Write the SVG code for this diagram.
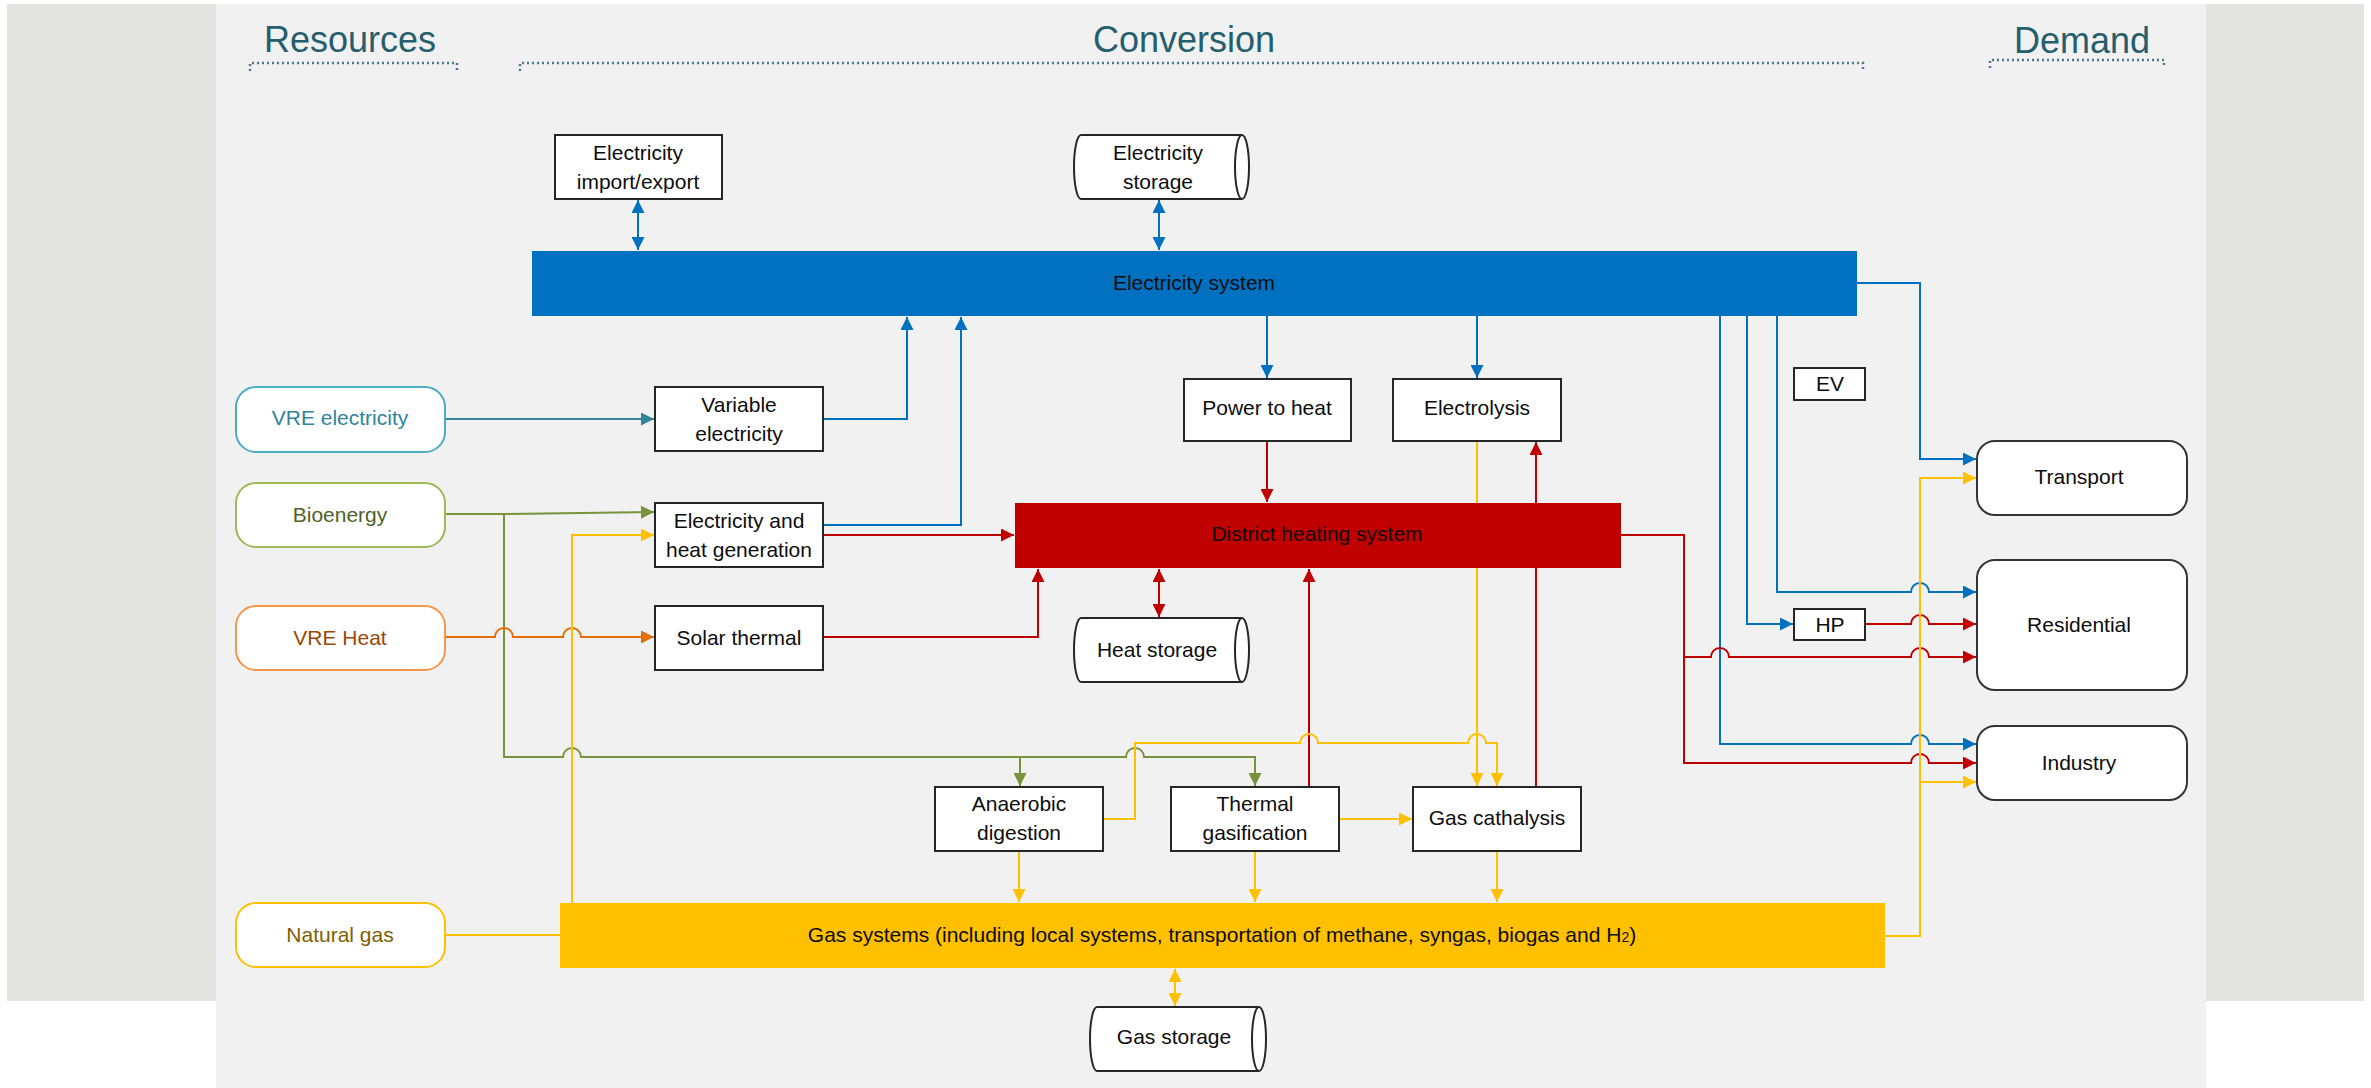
<svg xmlns="http://www.w3.org/2000/svg" width="2371" height="1088" viewBox="0 0 2371 1088">
  <style>
    text { font-family: "Liberation Sans", Arial, sans-serif; font-size: 21px; fill: #0d0d0d; text-anchor: middle; }
    .hdr { font-size: 36px; fill: #255e6c; }
    .box { fill: #ffffff; stroke: #262626; stroke-width: 2; }
    .dem { fill: #ffffff; stroke: #333333; stroke-width: 2; }
    .res { fill: #ffffff; stroke-width: 2; }
    .brk { fill: none; stroke: #4a7885; stroke-width: 2.5; stroke-dasharray: 2 3; }
    .c { fill: none; stroke-width: 2; }
    .blue { stroke: #0070c0; }
    .red { stroke: #c00000; }
    .yel { stroke: #ffc000; }
    .grn { stroke: #77933c; }
    .teal { stroke: #31849b; }
    .org { stroke: #e46c0a; }
  </style>
  <defs>
    <marker id="aBlue" viewBox="0 0 10 10" refX="10" refY="5" markerWidth="14" markerHeight="13" markerUnits="userSpaceOnUse" orient="auto-start-reverse"><path d="M0,0 L10,5 L0,10 z" fill="#0070c0"/></marker>
    <marker id="aRed" viewBox="0 0 10 10" refX="10" refY="5" markerWidth="14" markerHeight="13" markerUnits="userSpaceOnUse" orient="auto-start-reverse"><path d="M0,0 L10,5 L0,10 z" fill="#c00000"/></marker>
    <marker id="aYel" viewBox="0 0 10 10" refX="10" refY="5" markerWidth="14" markerHeight="13" markerUnits="userSpaceOnUse" orient="auto-start-reverse"><path d="M0,0 L10,5 L0,10 z" fill="#ffc000"/></marker>
    <marker id="aGrn" viewBox="0 0 10 10" refX="10" refY="5" markerWidth="14" markerHeight="13" markerUnits="userSpaceOnUse" orient="auto-start-reverse"><path d="M0,0 L10,5 L0,10 z" fill="#77933c"/></marker>
    <marker id="aTeal" viewBox="0 0 10 10" refX="10" refY="5" markerWidth="14" markerHeight="13" markerUnits="userSpaceOnUse" orient="auto-start-reverse"><path d="M0,0 L10,5 L0,10 z" fill="#31849b"/></marker>
    <marker id="aOrg" viewBox="0 0 10 10" refX="10" refY="5" markerWidth="14" markerHeight="13" markerUnits="userSpaceOnUse" orient="auto-start-reverse"><path d="M0,0 L10,5 L0,10 z" fill="#e46c0a"/></marker>
  </defs>

  <!-- background -->
  <rect x="0" y="0" width="2371" height="1088" fill="#ffffff"/>
  <rect x="7" y="4" width="2357" height="997" fill="#e3e4e0"/>
  <rect x="216" y="4" width="1990" height="1084" fill="#f1f1f1"/>

  <!-- column headers -->
  <g id="headers">
    <text class="hdr" x="350" y="52">Resources</text>
    <path class="brk" d="M250,71 V63 H457 V71"/>
    <text class="hdr" x="1184" y="52">Conversion</text>
    <path class="brk" d="M520,71 V63 H1863 V71"/>
    <text class="hdr" x="2082" y="53">Demand</text>
    <path class="brk" d="M1990,68 V60 H2164 V68"/>
  </g>

  <!-- connectors -->
  <g id="connectors">
    <!-- electricity -->
    <path class="c blue" d="M638,200 V250" marker-start="url(#aBlue)" marker-end="url(#aBlue)"/>
    <path class="c blue" d="M1159,200 V250" marker-start="url(#aBlue)" marker-end="url(#aBlue)"/>
    <path class="c blue" d="M823,419 H907 V317" marker-end="url(#aBlue)"/>
    <path class="c blue" d="M823,525 H961 V317" marker-end="url(#aBlue)"/>
    <path class="c blue" d="M1267,316 V378" marker-end="url(#aBlue)"/>
    <path class="c blue" d="M1477,316 V378" marker-end="url(#aBlue)"/>
    <path class="c blue" d="M1857,283 H1920 V459 H1976" marker-end="url(#aBlue)"/>
    <path class="c blue" d="M1777,316 V592 H1911 A9,9 0 0 1 1929,592 H1976" marker-end="url(#aBlue)"/>
    <path class="c blue" d="M1747,316 V624 H1793" marker-end="url(#aBlue)"/>
    <path class="c blue" d="M1720,316 V744 H1911 A9,9 0 0 1 1929,744 H1976" marker-end="url(#aBlue)"/>

    <!-- resources -->
    <path class="c teal" d="M445,419 H654" marker-end="url(#aTeal)"/>
    <path class="c grn" d="M445,514 H504 L654,512" marker-end="url(#aGrn)"/>
    <path class="c grn" d="M504,514 V757 H563 A9,9 0 0 1 581,757 H1020 V786" marker-end="url(#aGrn)"/>
    <path class="c grn" d="M1020,757 H1126 A9,9 0 0 1 1144,757 H1255 V786" marker-end="url(#aGrn)"/>
    <path class="c org" d="M445,637 H495 A9,9 0 0 1 513,637 H563 A9,9 0 0 1 581,637 H654" marker-end="url(#aOrg)"/>
    <path class="c yel" d="M445,935 H560"/>
    <path class="c yel" d="M572,903 V535 H654" marker-end="url(#aYel)"/>

    <!-- district heating -->
    <path class="c red" d="M823,535 H1014" marker-end="url(#aRed)"/>
    <path class="c red" d="M823,637 H1038 V569" marker-end="url(#aRed)"/>
    <path class="c red" d="M1267,441 V502" marker-end="url(#aRed)"/>
    <path class="c red" d="M1159,569 V617" marker-start="url(#aRed)" marker-end="url(#aRed)"/>
    <path class="c red" d="M1309,787 V569" marker-end="url(#aRed)"/>
    <path class="c red" d="M1536,787 V442" marker-end="url(#aRed)"/>
    <path class="c red" d="M1865,624 H1911 A9,9 0 0 1 1929,624 H1976" marker-end="url(#aRed)"/>
    <path class="c red" d="M1621,535 H1684 V657 H1711 A9,9 0 0 1 1729,657 H1911 A9,9 0 0 1 1929,657 H1976" marker-end="url(#aRed)"/>
    <path class="c red" d="M1684,657 V763 H1911 A9,9 0 0 1 1929,763 H1976" marker-end="url(#aRed)"/>

    <!-- gases -->
    <path class="c yel" d="M1477,441 V786" marker-end="url(#aYel)"/>
    <path class="c yel" d="M1103,819 H1135 V743 H1300 A9,9 0 0 1 1318,743 H1468 A9,9 0 0 1 1486,743 H1497 V786" marker-end="url(#aYel)"/>
    <path class="c yel" d="M1339,819 H1412" marker-end="url(#aYel)"/>
    <path class="c yel" d="M1019,851 V902" marker-end="url(#aYel)"/>
    <path class="c yel" d="M1255,851 V902" marker-end="url(#aYel)"/>
    <path class="c yel" d="M1497,851 V902" marker-end="url(#aYel)"/>
    <path class="c yel" d="M1175,969 V1006" marker-start="url(#aYel)" marker-end="url(#aYel)"/>
    <path class="c yel" d="M1885,936 H1920 V478 H1976" marker-end="url(#aYel)"/>
    <path class="c yel" d="M1920,782 H1976" marker-end="url(#aYel)"/>
  </g>

  <!-- resources -->
  <g id="vre-electricity">
    <rect class="res" x="236" y="387" width="209" height="65" rx="20" stroke="#4bacc6"/>
    <text x="340" y="425" style="fill:#31849b">VRE electricity</text>
  </g>
  <g id="bioenergy">
    <rect class="res" x="236" y="483" width="209" height="64" rx="20" stroke="#9bbb59"/>
    <text x="340" y="522" style="fill:#4f6228">Bioenergy</text>
  </g>
  <g id="vre-heat">
    <rect class="res" x="236" y="606" width="209" height="64" rx="20" stroke="#f79646"/>
    <text x="340" y="645" style="fill:#984807">VRE Heat</text>
  </g>
  <g id="natural-gas">
    <rect class="res" x="236" y="903" width="209" height="64" rx="20" stroke="#ffc000"/>
    <text x="340" y="942" style="fill:#7f6000">Natural gas</text>
  </g>

  <!-- system buses -->
  <g id="electricity-system">
    <rect x="532" y="251" width="1325" height="65" fill="#0070c0"/>
    <text x="1194" y="290">Electricity system</text>
  </g>
  <g id="district-heating-system">
    <rect x="1015" y="503" width="606" height="65" fill="#c00000"/>
    <text x="1317" y="541">District heating system</text>
  </g>
  <g id="gas-systems">
    <rect x="560" y="903" width="1325" height="65" fill="#ffc000"/>
    <text x="1222" y="942">Gas systems (including local systems, transportation of methane, syngas, biogas and H<tspan font-size="14">2</tspan>)</text>
  </g>

  <!-- conversion -->
  <g id="electricity-import-export">
    <rect class="box" x="555" y="135" width="167" height="64"/>
    <text x="638" y="160">Electricity</text>
    <text x="638" y="189">import/export</text>
  </g>
  <g id="electricity-storage">
    <path class="box" d="M1081,135 H1242 A7,32 0 0 1 1242,199 H1081 A7,32 0 0 1 1081,135 Z"/>
    <path class="box" d="M1242,135 A7,32 0 0 0 1242,199" fill="none"/>
    <text x="1158" y="160">Electricity</text>
    <text x="1158" y="189">storage</text>
  </g>
  <g id="variable-electricity">
    <rect class="box" x="655" y="387" width="168" height="64"/>
    <text x="739" y="412">Variable</text>
    <text x="739" y="441">electricity</text>
  </g>
  <g id="electricity-heat-generation">
    <rect class="box" x="655" y="503" width="168" height="64"/>
    <text x="739" y="528">Electricity and</text>
    <text x="739" y="557">heat generation</text>
  </g>
  <g id="solar-thermal">
    <rect class="box" x="655" y="606" width="168" height="64"/>
    <text x="739" y="645">Solar thermal</text>
  </g>
  <g id="power-to-heat">
    <rect class="box" x="1184" y="379" width="167" height="62"/>
    <text x="1267" y="415">Power to heat</text>
  </g>
  <g id="electrolysis">
    <rect class="box" x="1393" y="379" width="168" height="62"/>
    <text x="1477" y="415">Electrolysis</text>
  </g>
  <g id="heat-storage">
    <path class="box" d="M1081,618 H1242 A7,32 0 0 1 1242,682 H1081 A7,32 0 0 1 1081,618 Z"/>
    <path class="box" d="M1242,618 A7,32 0 0 0 1242,682" fill="none"/>
    <text x="1157" y="657">Heat storage</text>
  </g>
  <g id="anaerobic-digestion">
    <rect class="box" x="935" y="787" width="168" height="64"/>
    <text x="1019" y="811">Anaerobic</text>
    <text x="1019" y="840">digestion</text>
  </g>
  <g id="thermal-gasification">
    <rect class="box" x="1171" y="787" width="168" height="64"/>
    <text x="1255" y="811">Thermal</text>
    <text x="1255" y="840">gasification</text>
  </g>
  <g id="gas-cathalysis">
    <rect class="box" x="1413" y="787" width="168" height="64"/>
    <text x="1497" y="825">Gas cathalysis</text>
  </g>
  <g id="gas-storage">
    <path class="box" d="M1097,1007 H1259 A7,32 0 0 1 1259,1071 H1097 A7,32 0 0 1 1097,1007 Z"/>
    <path class="box" d="M1259,1007 A7,32 0 0 0 1259,1071" fill="none"/>
    <text x="1174" y="1044">Gas storage</text>
  </g>
  <g id="ev">
    <rect class="box" x="1794" y="368" width="71" height="32"/>
    <text x="1830" y="391">EV</text>
  </g>
  <g id="hp">
    <rect class="box" x="1794" y="609" width="71" height="31"/>
    <text x="1830" y="632">HP</text>
  </g>

  <!-- demand -->
  <g id="transport">
    <rect class="dem" x="1977" y="441" width="210" height="74" rx="18"/>
    <text x="2079" y="484">Transport</text>
  </g>
  <g id="residential">
    <rect class="dem" x="1977" y="560" width="210" height="130" rx="18"/>
    <text x="2079" y="632">Residential</text>
  </g>
  <g id="industry">
    <rect class="dem" x="1977" y="726" width="210" height="74" rx="18"/>
    <text x="2079" y="770">Industry</text>
  </g>
</svg>
